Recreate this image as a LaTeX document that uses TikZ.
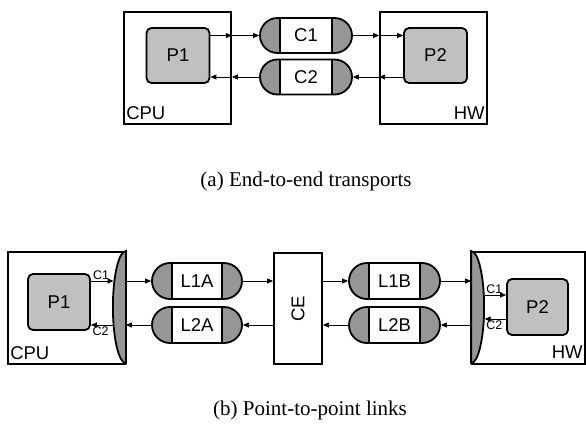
\documentclass[tikz,border=0pt]{standalone}
\usepackage{fontspec}
\setmainfont{Liberation Serif}
\setsansfont{Liberation Sans}
\usetikzlibrary{arrows.meta,shapes.misc}
\definecolor{procgray}{RGB}{192,192,192}
\definecolor{capgray}{RGB}{150,150,150}
\tikzset{
  host box/.style={
    rectangle, draw, line width=1.8bp, fill=white,
    inner sep=0pt, minimum width=107bp, minimum height=112bp
  },
  proc box/.style={
    rectangle, rounded corners=5bp, draw, line width=1.8bp,
    fill=procgray, inner sep=0pt, minimum width=63bp, minimum height=55bp,
    font=\sffamily\fontsize{18.5bp}{22bp}\selectfont
  },
  chan node/.style={
    rounded rectangle, draw, line width=1.8bp, fill=capgray,
    inner sep=0pt, minimum width=92bp, minimum height=35bp,
    font=\sffamily\fontsize{18.5bp}{22bp}\selectfont,
    path picture={
      \fill[white] ([xshift=20bp]path picture bounding box.south west)
        rectangle ([xshift=-20bp]path picture bounding box.north east);
      \draw[line width=1.8bp] ([xshift=20bp]path picture bounding box.south west)
        -- ([xshift=20bp]path picture bounding box.north west);
      \draw[line width=1.8bp] ([xshift=-20bp]path picture bounding box.south east)
        -- ([xshift=-20bp]path picture bounding box.north east);
    }
  },
  lens/.style={draw, line width=1.8bp, fill=capgray},
  host label/.style={inner sep=3bp, font=\sffamily\fontsize{18.5bp}{22bp}\selectfont},
  port label/.style={inner sep=1bp, font=\sffamily\fontsize{12.5bp}{14bp}\selectfont},
  caption/.style={font=\fontsize{21bp}{24bp}\selectfont},
  link arrow/.style={-{Triangle[length=6bp,width=5bp]}, line width=0.9bp}
}

\begin{document}
\begin{tikzpicture}[x=1bp,y=-1bp]
  \useasboundingbox (0,0) rectangle (586,429);

  % (a) end-to-end transports
  \node[host box] (cpuA) at (177.5,68) {};
  \node[host box] (hwA) at (433.5,68) {};
  \node[host label, anchor=south west] at ([yshift=2bp]cpuA.south west) {CPU};
  \node[host label, anchor=south east] at ([yshift=2bp]hwA.south east) {HW};
  \node[proc box] (p1A) at (178,55.5) {P1};
  \node[proc box] (p2A) at (435.5,55.5) {P2};
  \node[chan node] (c1) at (306,35.5) {C1};
  \node[chan node] (c2) at (306,77) {C2};
  \draw[link arrow] (p1A.east |- c1.west) -- (cpuA.east |- c1.west);
  \draw[link arrow] (cpuA.east |- c1.west) -- (c1.west);
  \draw[link arrow] (c1.east) -- (hwA.west |- c1.east);
  \draw[link arrow] (hwA.west |- c1.east) -- (p2A.west |- c1.east);
  \draw[link arrow] (p2A.west |- c2.east) -- (hwA.west |- c2.east);
  \draw[link arrow] (hwA.west |- c2.east) -- (c2.east);
  \draw[link arrow] (c2.west) -- (cpuA.east |- c2.west);
  \draw[link arrow] (cpuA.east |- c2.west) -- (p1A.east |- c2.west);
  \node[caption] (capA) at (306,181) {(a) End-to-end transports};

  % (b) point-to-point links
  \node[host box, minimum width=117bp] (cpuB) at (66.5,308) {};
  \node[host box, minimum width=113bp] (hwB) at (528.5,308) {};
  \filldraw[lens] (cpuB.north east) arc[start angle=90, end angle=270, x radius=13bp, y radius=56bp] -- cycle;
  \filldraw[lens] (hwB.north west) arc[start angle=90, end angle=-90, x radius=13bp, y radius=56bp] -- cycle;
  \node[host label, anchor=south west] at ([yshift=2bp]cpuB.south west) {CPU};
  \node[host label, anchor=south east] at ([yshift=3bp]hwB.south east) {HW};
  \node[proc box, minimum width=62bp, minimum height=56bp] (p1B) at (59,302) {P1};
  \node[proc box, minimum width=61bp, minimum height=56bp] (p2B) at (537.5,307) {P2};
  \node[chan node, minimum width=90bp, minimum height=36bp] (l1a) at (197,281) {L1A};
  \node[chan node, minimum width=90bp, minimum height=36bp] (l2a) at (197,325) {L2A};
  \node[chan node, minimum width=91bp, minimum height=36bp] (l1b) at (394.5,281) {L1B};
  \node[chan node, minimum width=91bp, minimum height=36bp] (l2b) at (394.5,325) {L2B};
  \node[host box, minimum width=48bp, minimum height=111bp,
    font=\sffamily\fontsize{18.5bp}{22bp}\selectfont] (ce) at (298,308.5) {\rotatebox{90}{CE}};
  % points on the lenses
  \coordinate (lensA1) at (113.6,281);
  \coordinate (lensA2) at (112.6,325);
  \coordinate (lensB1) at (484.7,295);
  \coordinate (lensB2) at (484.7,319);
  \draw[link arrow] (p1B.east |- lensA1) -- node[port label, above, pos=0.45] {C1} (lensA1);
  \draw[link arrow] (lensA2) -- node[port label, below, pos=0.55] {C2} (p1B.east |- lensA2);
  \draw[link arrow] (lensB1) -- node[port label, above, pos=0.45] {C1} (p2B.west |- lensB1);
  \draw[link arrow] (p2B.west |- lensB2) -- node[port label, below, pos=0.55] {C2} (lensB2);
  \draw[link arrow] (cpuB.east |- l1a.west) -- (l1a.west);
  \draw[link arrow] (l1a.east) -- (ce.west |- l1a.east);
  \draw[link arrow] (ce.east |- l1b.west) -- (l1b.west);
  \draw[link arrow] (l1b.east) -- (hwB.west |- l1b.east);
  \draw[link arrow] (hwB.west |- l2b.east) -- (l2b.east);
  \draw[link arrow] (l2b.west) -- (ce.east |- l2b.west);
  \draw[link arrow] (ce.west |- l2a.east) -- (l2a.east);
  \draw[link arrow] (l2a.west) -- (cpuB.east |- l2a.west);
  \node[caption] (capB) at (310,410) {(b) Point-to-point links};
\end{tikzpicture}
\end{document}
